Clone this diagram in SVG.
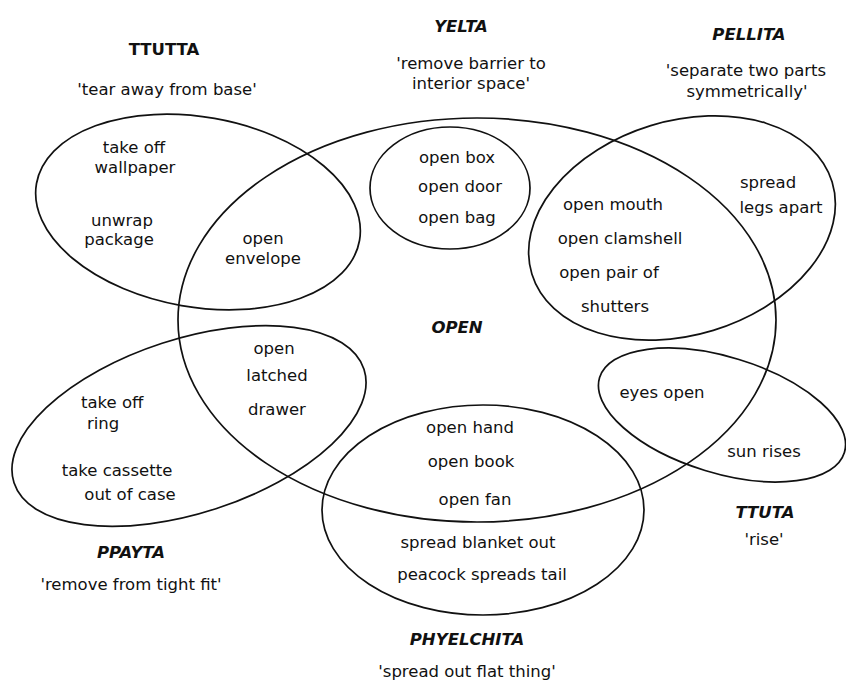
<svg xmlns="http://www.w3.org/2000/svg" width="846" height="688" viewBox="0 0 846 688">
  <style>
    .set { fill: none; stroke: #111; stroke-width: 1.7; }
    text { font-family: "DejaVu Sans", "Liberation Sans", sans-serif; font-size: 16.5px; fill: #111; text-anchor: middle; }
    .name { font-weight: bold; font-style: italic; }
    .upright { font-style: normal; }
    .start { text-anchor: start; }
  </style>
  <rect width="846" height="688" fill="#fff"/>

  <!-- central category -->
  <g id="open">
    <ellipse class="set" cx="477" cy="320" rx="299" ry="202"/>
    <text class="name" x="457" y="333">OPEN</text>
  </g>

  <!-- TTUTTA: tear away from base -->
  <g id="ttutta">
    <ellipse class="set" cx="198" cy="212" rx="164" ry="95" transform="rotate(10 198 212)"/>
    <text class="name upright" x="164" y="55">TTUTTA</text>
    <text x="167" y="95">'tear away from base'</text>
    <text x="134" y="153">take off</text>
    <text x="135" y="173">wallpaper</text>
    <text x="122" y="226">unwrap</text>
    <text x="119" y="245">package</text>
    <text x="263" y="244">open</text>
    <text x="263" y="264">envelope</text>
  </g>

  <!-- YELTA: remove barrier to interior space -->
  <g id="yelta">
    <ellipse class="set" cx="450" cy="188" rx="80" ry="61"/>
    <text class="name" x="461" y="32">YELTA</text>
    <text x="471" y="69">'remove barrier to</text>
    <text x="471" y="89">interior space'</text>
    <text x="457" y="163">open box</text>
    <text x="460" y="192">open door</text>
    <text x="457" y="223">open bag</text>
  </g>

  <!-- PELLITA: separate two parts symmetrically -->
  <g id="pellita">
    <ellipse class="set" cx="682" cy="228" rx="157" ry="107" transform="rotate(-17 682 228)"/>
    <text class="name" x="749" y="40">PELLITA</text>
    <text x="746" y="76">'separate two parts</text>
    <text x="747" y="97">symmetrically'</text>
    <text x="768" y="188">spread</text>
    <text x="781" y="213">legs apart</text>
    <text x="613" y="210">open mouth</text>
    <text x="620" y="244">open clamshell</text>
    <text x="609" y="278">open pair of</text>
    <text x="615" y="312">shutters</text>
  </g>

  <!-- PPAYTA: remove from tight fit -->
  <g id="ppayta">
    <ellipse class="set" cx="189" cy="426" rx="184" ry="87" transform="rotate(-18 189 426)"/>
    <text class="name" x="131" y="558">PPAYTA</text>
    <text x="131" y="590">'remove from tight fit'</text>
    <text x="274" y="354">open</text>
    <text x="277" y="381">latched</text>
    <text x="277" y="415">drawer</text>
    <text class="start" x="81" y="408">take off</text>
    <text class="start" x="87" y="429">ring</text>
    <text x="117" y="476">take cassette</text>
    <text x="130" y="500">out of case</text>
  </g>

  <!-- TTUTA: rise -->
  <g id="ttuta">
    <ellipse class="set" cx="722" cy="415" rx="128" ry="58" transform="rotate(17 722 415)"/>
    <text class="name" x="765" y="518">TTUTA</text>
    <text x="764" y="545">'rise'</text>
    <text x="662" y="398">eyes open</text>
    <text x="764" y="457">sun rises</text>
  </g>

  <!-- PHYELCHITA: spread out flat thing -->
  <g id="phyelchita">
    <ellipse class="set" cx="483" cy="510" rx="161" ry="105"/>
    <text class="name" x="467" y="645">PHYELCHITA</text>
    <text x="467" y="677">'spread out flat thing'</text>
    <text x="470" y="433">open hand</text>
    <text x="471" y="467">open book</text>
    <text x="475" y="505">open fan</text>
    <text x="478" y="548">spread blanket out</text>
    <text x="482" y="580">peacock spreads tail</text>
  </g>

  <!-- no connectors between the sets -->
  <g id="connectors"/>
</svg>
